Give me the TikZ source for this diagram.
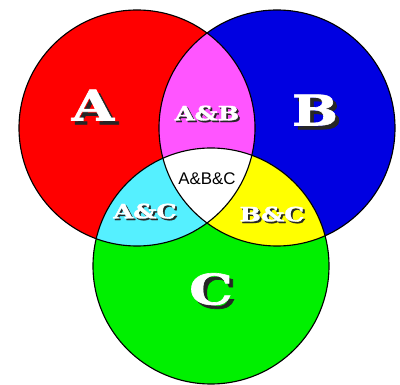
\documentclass[tikz,border=0pt]{standalone}
\usepackage{fontspec}
\newfontfamily\slabfont[FakeStretch=1.3, FakeBold=1.5]{DejaVu Serif Bold}
\newfontfamily\plainfont{Liberation Sans}
\definecolor{setred}{RGB}{255,0,0}
\definecolor{setblue}{RGB}{0,0,225}
\definecolor{setgreen}{RGB}{0,240,0}
\definecolor{setmagenta}{RGB}{255,85,255}
\definecolor{setcyan}{RGB}{85,240,255}
\definecolor{setyellow}{RGB}{255,255,0}
% white text with a dark drop shadow behind it
\newcommand{\dropshadow}[1]{\makebox[0pt][l]{\kern0.09em\raisebox{-0.09em}{\textcolor{black!85}{#1}}}#1}
\tikzset{
  rim/.style={black, line width=0.8pt},
  setlabel/.style={text=white, inner sep=0pt, font=\slabfont\fontsize{30}{30}\selectfont},
  pairlabel/.style={text=white, inner sep=0pt, font=\slabfont\fontsize{14}{14}\selectfont},
}

\begin{document}
\begin{tikzpicture}[x=0.025cm, y=-0.025cm]
    \useasboundingbox (0,0) rectangle (400,385);

    % Circle centres (pixel coordinates, y downwards)
    \coordinate (cA) at (137,128);
    \coordinate (cB) at (277,128);
    \coordinate (cC) at (211,266);
    \def\rad{118}

    % Whole sets
    \fill[setred] (cA) circle (\rad);
    \fill[setblue] (cB) circle (\rad);
    \fill[setgreen] (cC) circle (\rad);

    % Pairwise overlaps
    \begin{scope}
        \clip (cA) circle (\rad);
        \fill[setmagenta] (cB) circle (\rad);
    \end{scope}
    \begin{scope}
        \clip (cA) circle (\rad);
        \fill[setcyan] (cC) circle (\rad);
    \end{scope}
    \begin{scope}
        \clip (cB) circle (\rad);
        \fill[setyellow] (cC) circle (\rad);
    \end{scope}

    % Triple overlap
    \begin{scope}
        \clip (cA) circle (\rad);
        \clip (cB) circle (\rad);
        \fill[white] (cC) circle (\rad);
    \end{scope}

    % Outlines
    \foreach \c in {cA,cB,cC}
        \draw[rim] (\c) circle (\rad);

    % Set labels
    \foreach \nm/\x/\y/\txt in {labA/93/107/A, labB/315/112/B, labC/211/291/C}
        \node[setlabel] (\nm) at (\x,\y) {\dropshadow{\txt}};

    % Overlap labels
    \foreach \nm/\x/\y/\txt in {labAB/207/114/A\&B, labAC/145/212/A\&C, labBC/272/215/B\&C}
        \node[pairlabel] (\nm) at (\x,\y) {\dropshadow{\txt}};

    \node[font=\plainfont\fontsize{12}{12}\selectfont] (labABC) at (207,179) {A\&B\&C};
\end{tikzpicture}
\end{document}
